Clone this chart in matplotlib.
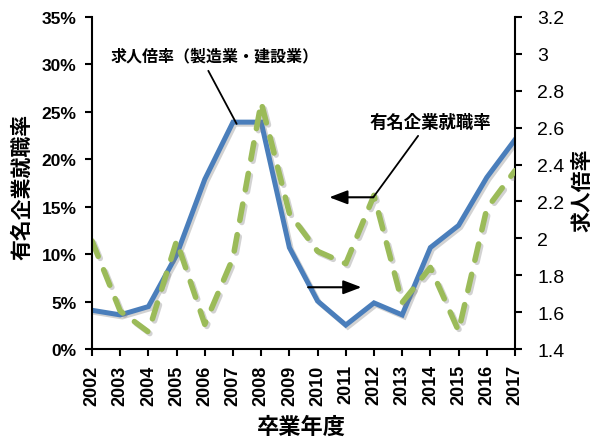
import matplotlib
matplotlib.use("Agg")
import matplotlib.pyplot as plt
import matplotlib.patheffects as pe
from matplotlib.ticker import FuncFormatter

plt.rcParams['font.family'] = ['Liberation Sans', 'Noto Sans CJK JP']

# graduation year
years = [2002, 2003, 2004, 2005, 2006, 2007, 2008, 2009,
         2010, 2011, 2012, 2013, 2014, 2015, 2016, 2017]
# share of graduates hired by well-known companies (%)
famous_rate = [11.4, 4.0, 1.8, 11.4, 2.6, 9.6, 26.0, 14.3,
               10.3, 9.0, 16.2, 4.9, 8.6, 1.9, 14.8, 18.8]
# job openings ratio (manufacturing / construction)
jobs_ratio = [1.61, 1.585, 1.63, 1.91, 2.32, 2.63, 2.63, 1.95,
              1.66, 1.53, 1.65, 1.585, 1.95, 2.07, 2.33, 2.535]

left_ticks = [0, 5, 10, 15, 20, 25, 30, 35]
right_ticks = [1.4, 1.6, 1.8, 2.0, 2.2, 2.4, 2.6, 2.8, 3.0, 3.2]

BLUE = '#4A7EBB'
GREEN = '#9BBB59'

fig = plt.figure(figsize=(5.95, 4.39), dpi=100)
ax = fig.add_axes([0.1546, 0.2027, 0.7109, 0.7563])
ax2 = ax.twinx()

shadow = [pe.SimpleLineShadow(offset=(1.5, -1.5), shadow_color='gray', alpha=0.35),
          pe.Normal()]

ax2.plot(years, jobs_ratio, color=BLUE, lw=3.6, solid_joinstyle='miter',
         path_effects=shadow)
ax.plot(years, famous_rate, color=GREEN, lw=4.0, linestyle=(0, (3, 2.6)),
        dash_capstyle='round', path_effects=shadow)

# green series on top of the blue one
ax.set_zorder(ax2.get_zorder() + 1)
ax.patch.set_visible(False)

ax.set_xlim(2002, 2017)
ax.set_ylim(0, 35)
ax2.set_ylim(1.4, 3.2)

ax.set_xticks(years)
ax.set_xticklabels([str(y) for y in years], rotation=90, fontsize=13,
                   fontweight='bold')
ax.set_yticks(left_ticks)
ax.yaxis.set_major_formatter(FuncFormatter(lambda v, p: f'{v:.0f}%'))
ax2.set_yticks(right_ticks)
ax2.yaxis.set_major_formatter(FuncFormatter(lambda v, p: f'{v:g}'))

for lbl in ax.get_yticklabels():
    lbl.set_fontsize(12.5)
    lbl.set_fontweight('bold')
for lbl in ax2.get_yticklabels():
    lbl.set_fontsize(14)

for a in (ax, ax2):
    a.spines['top'].set_visible(False)
    for s in a.spines.values():
        s.set_linewidth(1.5)
ax.spines['right'].set_visible(False)
ax2.spines['left'].set_visible(False)
ax2.spines['bottom'].set_visible(False)

ax.tick_params(axis='y', direction='out', length=5, width=1.5, pad=6)
ax.tick_params(axis='x', direction='out', length=5, width=1.5, pad=6)
ax2.tick_params(axis='y', direction='out', length=5, width=1.5, pad=11)

ax.set_ylabel('有名企業就職率', fontsize=15, fontweight='bold')
ax.yaxis.set_label_coords(-0.142, 0.49)
ax2.set_ylabel('求人倍率', fontsize=15, fontweight='bold', rotation=90)
ax2.yaxis.set_label_coords(1.135, 0.48)
ax.set_xlabel('卒業年度', fontsize=16, fontweight='bold')
ax.xaxis.set_label_coords(0.495, -0.205)

# callouts
ax.text(0.291, 0.884, '求人倍率（製造業・建設業）', transform=ax.transAxes,
        ha='center', va='center', fontsize=11.5, fontweight='bold')
ax.annotate('', xy=(0.342, 0.678), xytext=(0.275, 0.838), xycoords='axes fraction',
            arrowprops=dict(arrowstyle='-', lw=1.3, color='black',
                            shrinkA=0, shrinkB=0))

ax.text(0.801, 0.685, '有名企業就職率', transform=ax.transAxes,
        ha='center', va='center', fontsize=12.5, fontweight='bold')
ax.annotate('', xy=(0.665, 0.457), xytext=(0.771, 0.642), xycoords='axes fraction',
            arrowprops=dict(arrowstyle='-', lw=1.3, color='black',
                            shrinkA=0, shrinkB=0))
ax.annotate('', xy=(0.561, 0.457), xytext=(0.665, 0.457), xycoords='axes fraction',
            arrowprops=dict(arrowstyle='-|>,head_length=1.1,head_width=0.42',
                            lw=1.5, color='black', fc='black',
                            shrinkA=0, shrinkB=0))
ax.annotate('', xy=(0.637, 0.186), xytext=(0.511, 0.186), xycoords='axes fraction',
            arrowprops=dict(arrowstyle='-|>,head_length=1.1,head_width=0.42',
                            lw=1.5, color='black', fc='black',
                            shrinkA=0, shrinkB=0))

fig.savefig('out.png', dpi=100)
